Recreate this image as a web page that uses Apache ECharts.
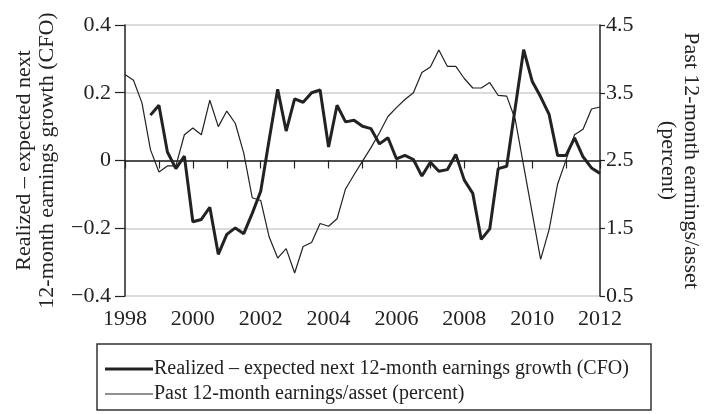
<!DOCTYPE html>
<html>
<head>
<meta charset="utf-8">
<script src="https://cdn.jsdelivr.net/npm/echarts@6/dist/echarts.min.js"></script>
<style>
  html, body { margin: 0; padding: 0; background: #fff; }
  #main { width: 710px; height: 414px; }
</style>
</head>
<body>
<div id="main"></div>
<script>
// quarterly observations, 1998Q1 .. 2012Q1
const firstYear = 1998
const quarters = []
for (let k = 0; k < 57; k++) quarters.push(firstYear + k / 4)

// realized - expected next 12-month earnings growth (CFO), left axis
const cfoGap = [
  null, null, null, 0.134, 0.163, 0.025, -0.024, 0.013,
  -0.181, -0.174, -0.138, -0.277, -0.218, -0.199, -0.216, -0.156,
  -0.091, 0.062, 0.21, 0.087, 0.182, 0.172, 0.200, 0.208,
  0.040, 0.163, 0.114, 0.119, 0.101, 0.094, 0.049, 0.067,
  0.005, 0.015, 0.003, -0.046, -0.005, -0.032, -0.027, 0.018,
  -0.058, -0.097, -0.233, -0.202, -0.024, -0.017, 0.155, 0.327,
  0.234, 0.188, 0.136, 0.015, 0.015, 0.067, 0.011, -0.022,
  -0.038
]

// past 12-month earnings / asset (percent), right axis
const earningsAsset = [
  3.77, 3.685, 3.35, 2.66, 2.33, 2.42, 2.42, 2.88,
  2.98, 2.88, 3.39, 3.00, 3.23, 3.05, 2.61, 1.95,
  1.91, 1.37, 1.06, 1.20, 0.84, 1.23, 1.29, 1.57,
  1.53, 1.64, 2.08, 2.29, 2.49, 2.69, 2.91, 3.15,
  3.28, 3.40, 3.50, 3.80, 3.88, 4.13, 3.89, 3.89,
  3.71, 3.57, 3.57, 3.65, 3.46, 3.45, 3.11, null,
  null, 1.04, 1.48, 2.15, 2.51, 2.88, 2.96, 3.26,
  3.29
]

const leftTicks = { min: -0.4, max: 0.4, step: 0.2 }
const rightTicks = { min: 0.5, max: 4.5, step: 1 }

const nameCFO = 'Realized – expected next 12-month earnings growth (CFO)'
const nameEA = 'Past 12-month earnings/asset (percent)'

const serif = '"Liberation Serif", "DejaVu Serif", serif'
const ink = '#222'

function pairs(values) {
  return quarters.map((q, i) => [q, values[i]])
}
function minus(v, digits) {
  if (Math.abs(v) < 1e-9) return '0'
  const s = Math.abs(v).toFixed(digits)
  return v < 0 ? '\u2212' + s : s
}

var myChart = echarts.init(document.getElementById('main'))

const option = {
  backgroundColor: '#fff',
  animation: false,
  textStyle: { fontFamily: serif, color: ink },
  grid: { left: 125, right: 110, top: 25, bottom: 118 },
  legend: {
    orient: 'vertical',
    left: 100,
    top: 354,
    itemWidth: 48,
    itemHeight: 10,
    itemGap: 5,
    data: [
      { name: nameCFO, icon: 'path://M0,0H48V3H0Z' },
      { name: nameEA, icon: 'path://M0,0H48V1.2H0Z' }
    ],
    textStyle: { fontFamily: serif, fontSize: 20, color: ink, padding: [0, 0, 0, -4] }
  },
  xAxis: {
    type: 'value',
    min: 1998,
    max: 2012,
    interval: 1,
    axisLine: { lineStyle: { color: ink, width: 1.5 } },
    axisTick: { length: 8, lineStyle: { color: ink, width: 1.2 } },
    axisLabel: {
      fontSize: 22,
      color: ink,
      margin: 12,
      formatter: v => (v % 2 === 0 ? String(v) : '')
    },
    splitLine: { show: false }
  },
  yAxis: [
    {
      type: 'value',
      position: 'left',
      min: leftTicks.min,
      max: leftTicks.max,
      interval: leftTicks.step,
      name: 'Realized – expected next\n12-month earnings growth (CFO)',
      nameLocation: 'middle',
      nameRotate: 90,
      nameGap: 66,
      nameTextStyle: { fontSize: 22, lineHeight: 23, color: ink },
      axisLine: { show: true, lineStyle: { color: ink, width: 1.5 } },
      axisTick: { show: true, length: 10, lineStyle: { color: ink, width: 1.2 } },
      axisLabel: { fontSize: 22, color: ink, margin: 14, formatter: v => minus(v, 1) },
      splitLine: { show: true, lineStyle: { color: '#cfcfcf', width: 1.5 } }
    },
    {
      type: 'value',
      position: 'right',
      min: rightTicks.min,
      max: rightTicks.max,
      interval: rightTicks.step,
      name: 'Past 12-month earnings/asset\n(percent)',
      nameLocation: 'middle',
      nameRotate: -90,
      nameGap: 56,
      nameTextStyle: { fontSize: 22, lineHeight: 23, color: ink },
      axisLine: { show: true, lineStyle: { color: ink, width: 1.5 } },
      axisTick: { show: true, length: 5, lineStyle: { color: ink, width: 1.2 } },
      axisLabel: { fontSize: 22, color: ink, margin: 6, formatter: v => v.toFixed(1) },
      splitLine: { show: false }
    }
  ],
  graphic: [
    {
      type: 'rect',
      shape: { x: 97, y: 344, width: 554, height: 66 },
      style: { fill: 'none', stroke: '#333', lineWidth: 1.5 },
      silent: true
    }
  ],
  series: [
    {
      name: nameEA,
      type: 'line',
      yAxisIndex: 1,
      data: pairs(earningsAsset),
      connectNulls: true,
      showSymbol: false,
      symbol: 'none',
      lineStyle: { color: ink, width: 1.2 },
      itemStyle: { color: ink },
      z: 2
    },
    {
      name: nameCFO,
      type: 'line',
      yAxisIndex: 0,
      data: pairs(cfoGap),
      showSymbol: false,
      symbol: 'none',
      lineStyle: { color: ink, width: 3 },
      itemStyle: { color: ink },
      z: 3
    }
  ]
}

myChart.setOption(option)
</script>
</body>
</html>
